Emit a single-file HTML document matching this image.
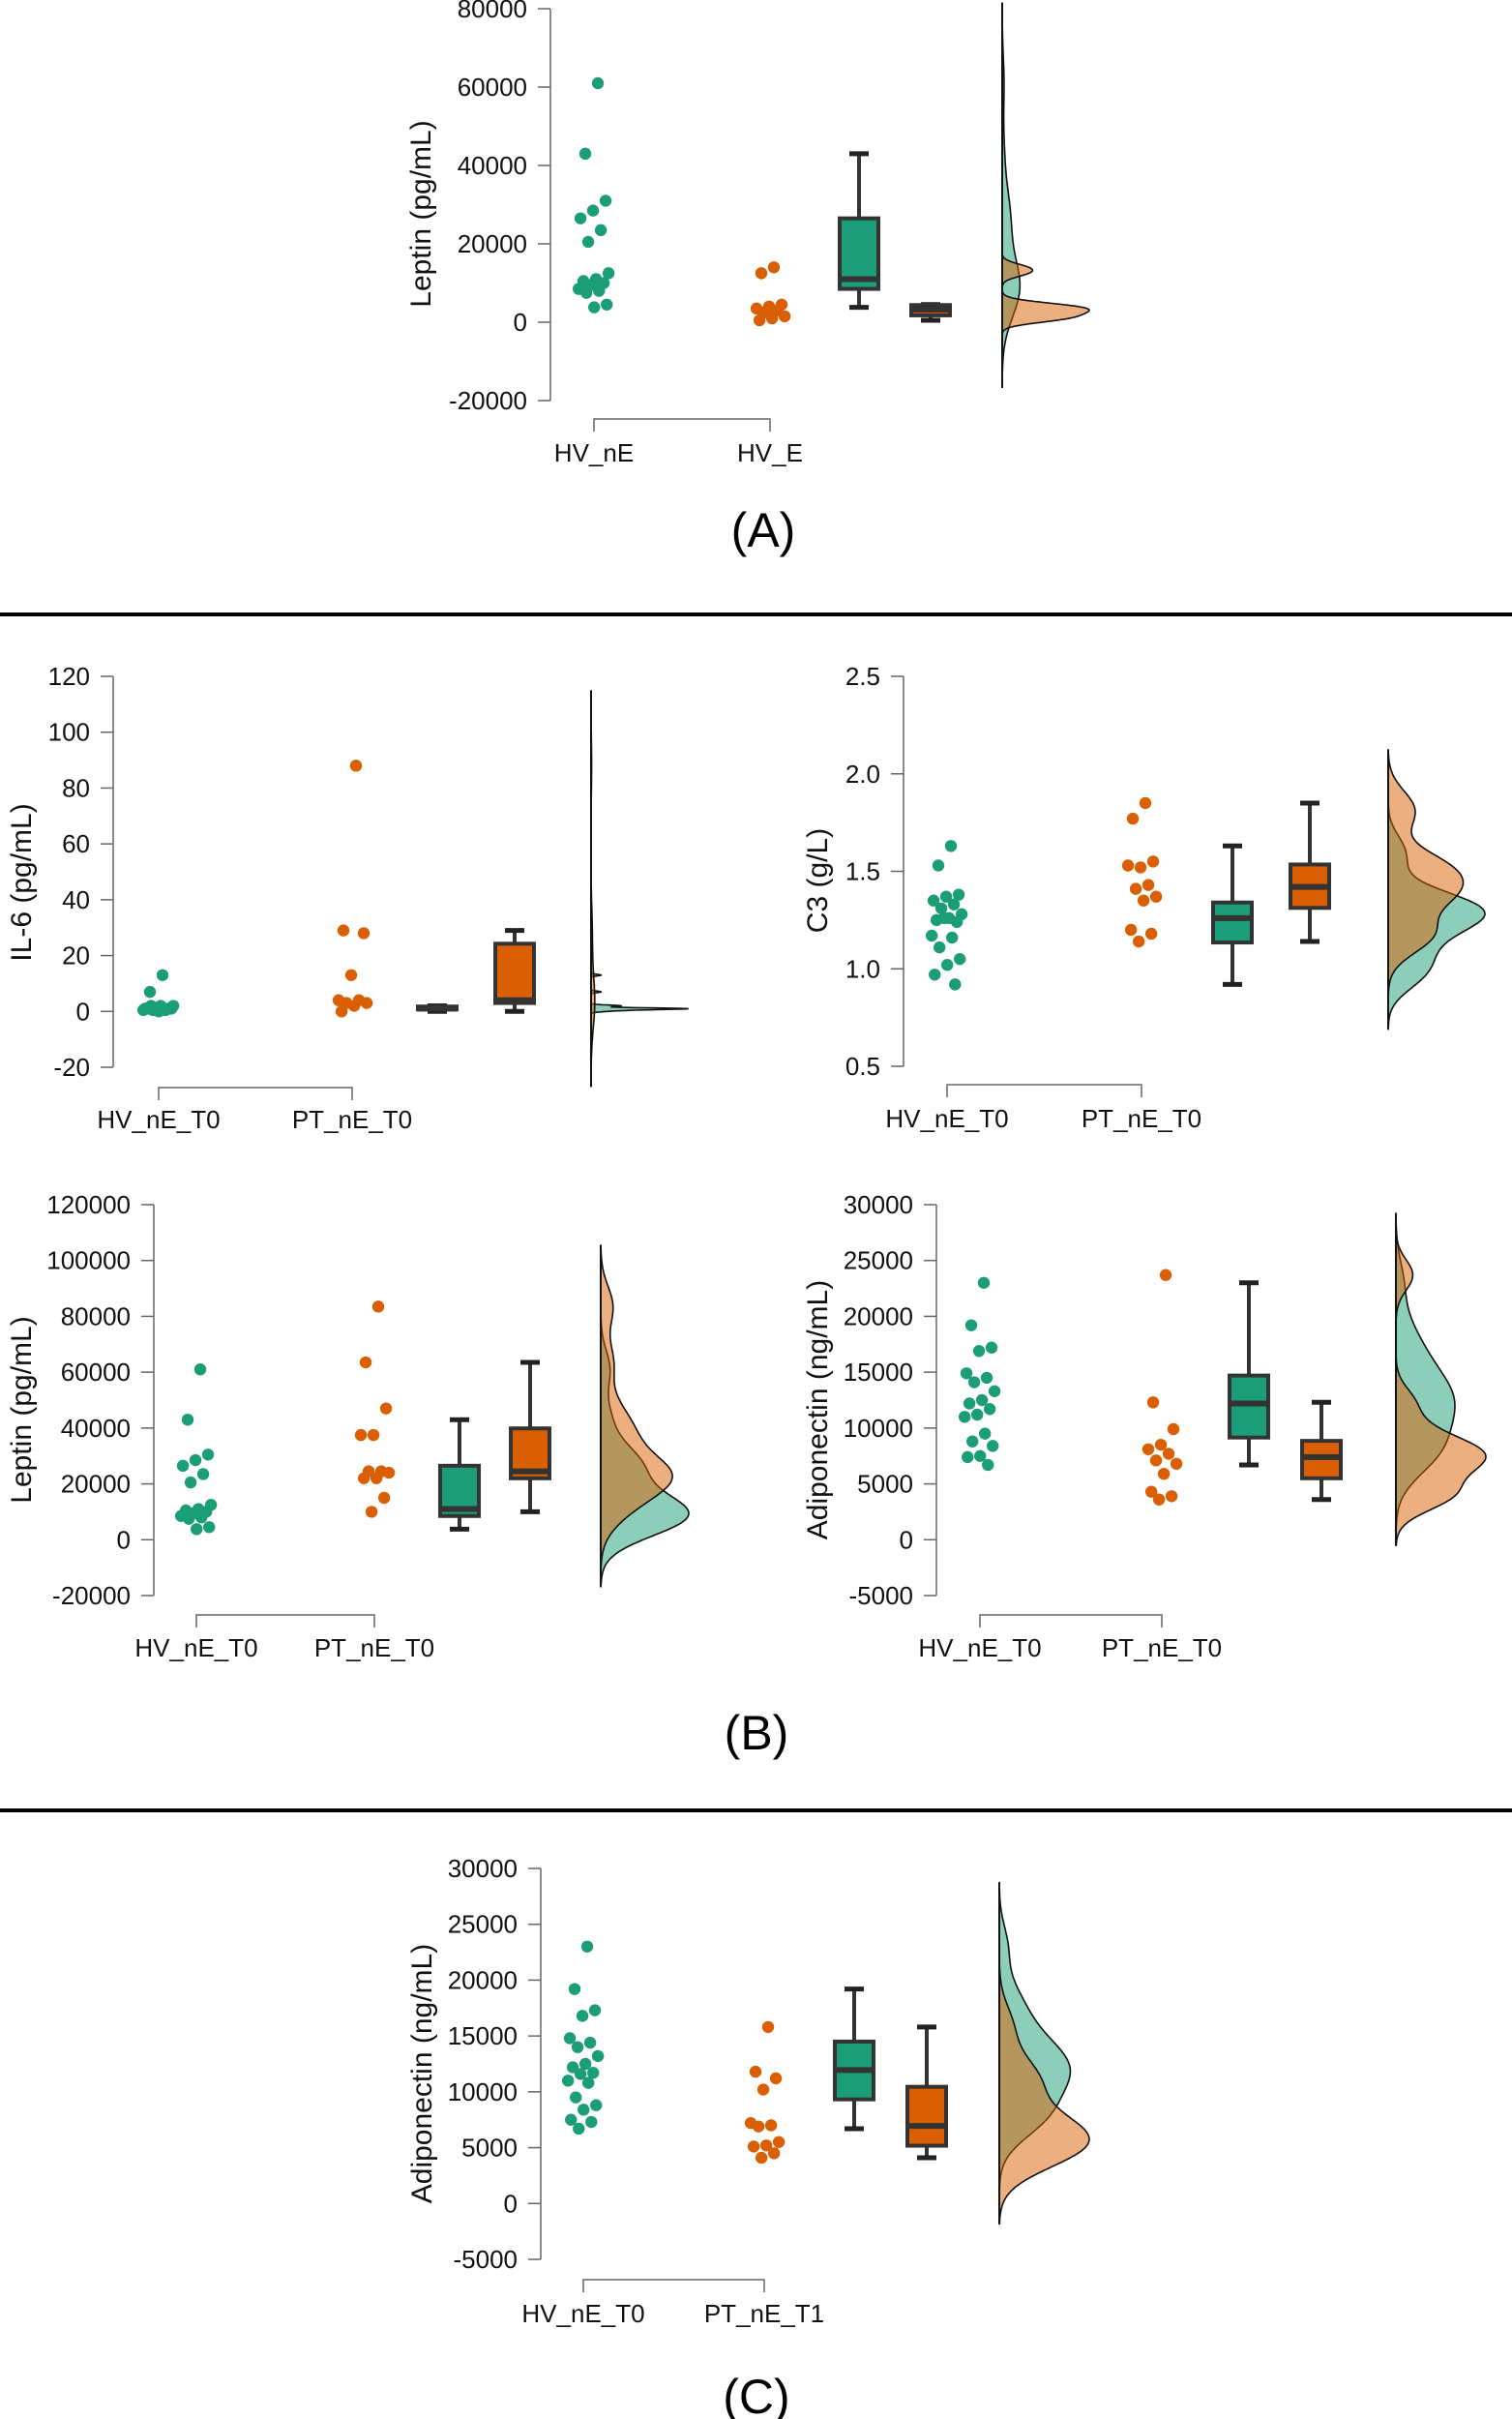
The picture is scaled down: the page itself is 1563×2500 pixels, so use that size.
<!DOCTYPE html>
<html><head><meta charset="utf-8">
<style>
html,body{margin:0;padding:0;background:#fff;}
svg{display:block;font-family:"Liberation Sans",Arial,sans-serif;}
</style></head>
<body>
<svg id="fig" width="1563" height="2500" viewBox="0 0 1563 2500" xmlns="http://www.w3.org/2000/svg">
<rect x="0" y="0" width="1563" height="2500" fill="#fff"/>
<line x1="0" y1="635" x2="1563" y2="635" stroke="#000" stroke-width="4"/>
<line x1="0" y1="1871" x2="1563" y2="1871" stroke="#000" stroke-width="4"/>
<text x="789" y="565" font-size="50" text-anchor="middle">(A)</text>
<text x="782" y="1808" font-size="50" text-anchor="middle">(B)</text>
<text x="782" y="2494" font-size="50" text-anchor="middle">(C)</text>
</svg>
<script>
// ---- data ----
const groupsA = ["HV_nE", "HV_E"];
const leptinA_HV_nE = [61000, 43000, 31000, 28500, 26500, 23500, 20500, 12500, 11000, 10500, 10000, 9500, 8500, 8000, 7500, 4500, 3800];
const leptinA_HV_E = [14000, 12500, 4500, 4000, 3500, 3000, 2500, 1500, 1000, 500];
const ticksA = [-20000, 0, 20000, 40000, 60000, 80000];

const groupsB = ["HV_nE_T0", "PT_nE_T0"];
const il6_HV = [13, 7, 1, 1, 1, 0.5, 0.5, 2, 2, 1, 1, 1, 0.5, 1, 2, 1, 0, 1];
const il6_PT = [88, 29, 28, 13, 4, 4, 3, 3, 2, 0];
const ticksIL6 = [-20, 0, 20, 40, 60, 80, 100, 120];

const c3_HV = [1.63, 1.53, 1.38, 1.37, 1.35, 1.33, 1.31, 1.28, 1.26, 1.25, 1.24, 1.26, 1.17, 1.16, 1.11, 1.05, 1.02, 0.97, 0.92];
const c3_PT = [1.85, 1.77, 1.55, 1.52, 1.53, 1.43, 1.41, 1.37, 1.35, 1.20, 1.18, 1.14];
const ticksC3 = [0.5, 1.0, 1.5, 2.0, 2.5];

const leptinB_HV = [61000, 43000, 30500, 28500, 26500, 23500, 20500, 12500, 11000, 10500, 10000, 9500, 8500, 8000, 7500, 4500, 3800];
const leptinB_PT = [83500, 63500, 47000, 37500, 37500, 24500, 24500, 24000, 22000, 22000, 15000, 10000];
const ticksLeptinB = [-20000, 0, 20000, 40000, 60000, 80000, 100000, 120000];

const adipB_HV = [23000, 19200, 17200, 16900, 14900, 14500, 14100, 13300, 12500, 12200, 11700, 11200, 11000, 9500, 8800, 8400, 7500, 7400, 6700];
const adipB_PT = [23700, 12300, 9900, 8500, 8100, 7700, 7100, 6800, 5900, 4300, 3900, 3600];
const ticksAdip = [-5000, 0, 5000, 10000, 15000, 20000, 25000, 30000];

const groupsC = ["HV_nE_T0", "PT_nE_T1"];
const adipC_HV = [23000, 19200, 17300, 16800, 14800, 14400, 14000, 13200, 12500, 12200, 11700, 11600, 11000, 10800, 9500, 8800, 8400, 7500, 7300, 6700];
const adipC_PT = [15800, 11800, 11200, 10200, 7200, 7000, 6900, 5500, 5200, 5100, 4500, 4100];

// ---- layout ----
const NS = "http://www.w3.org/2000/svg";
const svg = document.getElementById("fig");
const GREEN = "#1b9e77", ORANGE = "#d95f02";
function mk(tag, attrs, parent) {
  const e = document.createElementNS(NS, tag);
  for (const k in attrs) e.setAttribute(k, attrs[k]);
  (parent || svg).appendChild(e);
  return e;
}
function quant(s, p) { const i = (s.length - 1) * p, lo = Math.floor(i), hi = Math.ceil(i); return s[lo] + (s[hi] - s[lo]) * (i - lo); }
function stats(d) {
  const s = d.slice().sort((a, b) => a - b);
  const q1 = quant(s, .25), med = quant(s, .5), q3 = quant(s, .75), iqr = q3 - q1;
  const lo = s.find(v => v >= q1 - 1.5 * iqr), hi = s.slice().reverse().find(v => v <= q3 + 1.5 * iqr);
  return { q1, med, q3, lo, hi, s };
}
function kde(d) {
  const n = d.length, m = d.reduce((a, b) => a + b, 0) / n;
  const sd = Math.sqrt(d.reduce((a, b) => a + (b - m) * (b - m), 0) / (n - 1));
  const st = stats(d); const iqr = st.q3 - st.q1;
  let spread = Math.min(sd, iqr > 0 ? iqr / 1.34 : sd); if (!(spread > 0)) spread = sd;
  const bw = 0.9 * spread * Math.pow(n, -0.2);
  const a = st.s[0] - 3 * bw, b = st.s[n - 1] + 3 * bw, pts = [];
  for (let k = 0; k <= 240; k++) {
    const v = a + (b - a) * k / 240; let s = 0;
    for (const x of d) { const z = (v - x) / bw; s += Math.exp(-0.5 * z * z); }
    pts.push([v, s / (n * bw * Math.sqrt(2 * Math.PI))]);
  }
  return pts;
}

function panel(cfg) {
  const g = mk("g", {});
  
  
  const y = v => cfg.yBot + (v - cfg.ticks[0]) / (cfg.ticks[cfg.ticks.length - 1] - cfg.ticks[0]) * (cfg.yTop - cfg.yBot);
  // axis
  const ax = mk("line", { x1: cfg.axisX, x2: cfg.axisX, y1: y(cfg.ticks[0]), y2: y(cfg.ticks[cfg.ticks.length - 1]), stroke: "#666", "stroke-width": 1.5 }, g);
  
  
  cfg.ticks.forEach(t => {
    const tk = mk("line", { x1: cfg.axisX - 13, x2: cfg.axisX, y1: y(t), y2: y(t), stroke: "#666", "stroke-width": 1.5 }, g);
    
    
    const tl = mk("text", { x: cfg.axisX - 24, y: y(t) + 9, "font-size": 26, "text-anchor": "end", fill: "#111" }, g);
    tl.textContent = cfg.dec ? t.toFixed(1) : String(t);
    
    
  });
  const tt = mk("text", { x: cfg.titleX, y: (y(cfg.ticks[0]) + y(cfg.ticks[cfg.ticks.length - 1])) / 2, "font-size": 30, "text-anchor": "middle", transform: `rotate(-90 ${cfg.titleX} ${(y(cfg.ticks[0]) + y(cfg.ticks[cfg.ticks.length - 1])) / 2})`, fill: "#111" }, g);
  tt.setAttribute('y', cfg.titleY + 10);
  tt.setAttribute('transform', `rotate(-90 ${cfg.titleX + 10} ${cfg.titleY + 10})`);
  tt.setAttribute('x', cfg.titleX + 10);
  tt.textContent = cfg.title;
  
  
  // x bracket
  const br = mk("path", { d: `M${cfg.catX[0]},${cfg.brY + 13}V${cfg.brY}H${cfg.catX[1]}V${cfg.brY + 13}`, fill: "none", stroke: "#666", "stroke-width": 1.5 }, g);
  
  
  cfg.groups.forEach((name, i) => {
    const cl = mk("text", { x: cfg.catX[i], y: cfg.labY + 9, "font-size": 26, "text-anchor": "middle", fill: "#111" }, g);
    cl.textContent = name;
    
    
  });
  const cols = [GREEN, ORANGE];
  // points
  cfg.data.forEach((d, gi) => {
    d.forEach((v, i) => {
      const j = (((i + 1) * 0.6180339887) % 1) * 2 - 1;
      const c = mk("circle", { cx: cfg.catX[gi] + j * 17, cy: y(v), r: 6.2, fill: cols[gi] }, g);
      
      
    });
  });
  // boxes
  cfg.data.forEach((d, gi) => {
    const st = stats(d), cx = cfg.boxX[gi], hw = 20;
    const wl = mk("line", { x1: cx, x2: cx, y1: y(st.lo), y2: y(st.hi), stroke: "#333", "stroke-width": 4 }, g);
    
    
    [st.lo, st.hi].forEach(v => {
      const cap = mk("line", { x1: cx - 10, x2: cx + 10, y1: y(v), y2: y(v), stroke: "#222", "stroke-width": 5 }, g);
      
      
    });
    const top = y(st.q3), bot = y(st.q1);
    const bx = mk("rect", { x: cx - hw, y: top, width: 2 * hw, height: Math.max(bot - top, 3), fill: cols[gi], stroke: "#333", "stroke-width": 4 }, g);
    
    
    const md = mk("line", { x1: cx - hw, x2: cx + hw, y1: y(st.med), y2: y(st.med), stroke: "#333", "stroke-width": 6 }, g);
    
    
  });
  // densities
  const ks = cfg.data.map(kde);
  const dmax = Math.max(...ks.map(k => Math.max(...k.map(p => p[1]))));
  let vmin = Infinity, vmax = -Infinity;
  const fills = ["rgba(27,158,119,0.5)", "rgba(217,95,2,0.5)"];
  ks.forEach((k, gi) => {
    vmin = Math.min(vmin, k[0][0]); vmax = Math.max(vmax, k[k.length - 1][0]);
    let dstr = `M${cfg.densX},${y(k[0][0])}`;
    k.forEach(p => { dstr += `L${(cfg.densX + p[1] / dmax * cfg.densW).toFixed(1)},${y(p[0]).toFixed(1)}`; });
    dstr += `L${cfg.densX},${y(k[k.length - 1][0])}Z`;
    const pth = mk("path", { d: dstr, fill: fills[gi], stroke: "#111", "stroke-width": 1.6 }, g);
    
    
  });
  const bl = mk("line", { x1: cfg.densX, x2: cfg.densX, y1: y(vmin), y2: y(vmax), stroke: "#111", "stroke-width": 2 }, g);
  
  
}

panel({ name: "panel-a-leptin", title: "Leptin (pg/mL)", groups: groupsA, data: [leptinA_HV_nE, leptinA_HV_E], ticks: ticksA,
  yBot: 414, yTop: 9, axisX: 569, titleX: 435, titleY: 211, catX: [614, 796], brY: 433, labY: 468, boxX: [888, 962], densX: 1036, densW: 90 });
panel({ name: "panel-b-il6", title: "IL-6 (pg/mL)", groups: groupsB, data: [il6_HV, il6_PT], ticks: ticksIL6,
  yBot: 1103, yTop: 699, axisX: 117, titleX: 22, titleY: 902, catX: [164, 364], brY: 1124, labY: 1157, boxX: [452, 532], densX: 611, densW: 100 });
panel({ name: "panel-b-c3", title: "C3 (g/L)", groups: groupsB, data: [c3_HV, c3_PT], ticks: ticksC3, dec: true,
  yBot: 1102, yTop: 699, axisX: 934, titleX: 845, titleY: 900, catX: [979, 1180], brY: 1121, labY: 1156, boxX: [1274, 1354], densX: 1435, densW: 100 });
panel({ name: "panel-b-leptin", title: "Leptin (pg/mL)", groups: groupsB, data: [leptinB_HV, leptinB_PT], ticks: ticksLeptinB,
  yBot: 1649, yTop: 1245, axisX: 159, titleX: 22, titleY: 1447, catX: [203, 387], brY: 1669, labY: 1703, boxX: [475, 548], densX: 621, densW: 91 });
panel({ name: "panel-b-adiponectin", title: "Adiponectin (ng/mL)", groups: groupsB, data: [adipB_HV, adipB_PT], ticks: ticksAdip,
  yBot: 1649, yTop: 1245, axisX: 968, titleX: 845, titleY: 1447, catX: [1013, 1201], brY: 1669, labY: 1703, boxX: [1291, 1366], densX: 1443, densW: 93 });
panel({ name: "panel-c-adiponectin", title: "Adiponectin (ng/mL)", groups: groupsC, data: [adipC_HV, adipC_PT], ticks: ticksAdip,
  yBot: 2335, yTop: 1931, axisX: 559, titleX: 436, titleY: 2133, catX: [603, 790], brY: 2356, labY: 2391, boxX: [883, 958], densX: 1033, densW: 93 });
</script>
</body></html>
